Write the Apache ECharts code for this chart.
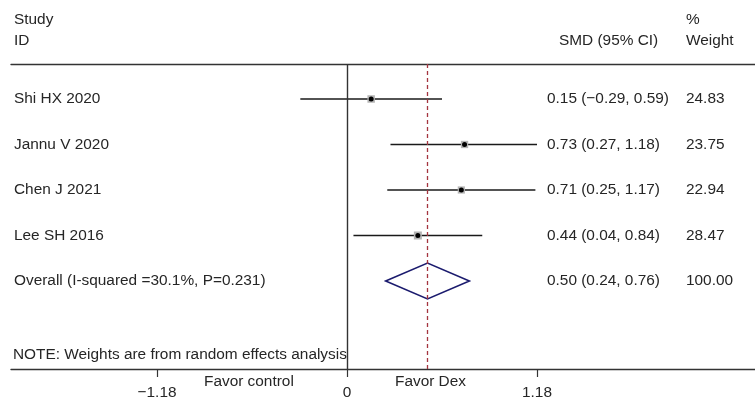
<!DOCTYPE html>
<html>
<head>
<meta charset="utf-8">
<script src="https://cdn.jsdelivr.net/npm/echarts@6/dist/echarts.min.js"></script>
<style>
  html, body { margin: 0; padding: 0; background: #fff; }
  #chart { width: 755px; height: 405px; }
</style>
</head>
<body>
<div id="chart"></div>
<script>
// Forest plot: standardized mean difference per study, random-effects pooled estimate
const studies  = ['Shi HX 2020', 'Jannu V 2020', 'Chen J 2021', 'Lee SH 2016'];
const smd      = [0.15, 0.73, 0.71, 0.44];
const ciLow    = [-0.29, 0.27, 0.25, 0.04];
const ciHigh   = [0.59, 1.18, 1.17, 0.84];
const weights  = [24.83, 23.75, 22.94, 28.47];

const overallLabel  = 'Overall (I-squared =30.1%, P=0.231)';
const overallSmd    = 0.50;
const overallLow    = 0.24;
const overallHigh   = 0.76;
const overallWeight = 100.00;

const tickValues = [-1.18, 0, 1.18];
const noteText = 'NOTE: Weights are from random effects analysis';

const FONT = '"Liberation Sans", Arial, Helvetica, sans-serif';
const FS = 15.4;
const TEXT = '#262626';
const COL_LABEL = 14, COL_EST = 547, COL_W = 686;

const fmt = v => v.toFixed(2).replace('-', '\u2212');

const studyRows = studies.map((s, i) => [i + 1, smd[i], ciLow[i], ciHigh[i], weights[i]]);
const overallRow = [[studies.length + 1, overallSmd, overallLow, overallHigh, overallWeight]];
const maxW = Math.max(...weights);

function rowTexts(label, est, lo, hi, w, y) {
  const st = (t, x) => ({
    type: 'text',
    style: { text: t, x: x, y: y, fill: TEXT, fontSize: FS, fontFamily: FONT, align: 'left', verticalAlign: 'middle' }
  });
  return [
    st(label, COL_LABEL),
    st(fmt(est) + ' (' + fmt(lo) + ', ' + fmt(hi) + ')', COL_EST),
    st(w.toFixed(2), COL_W)
  ];
}

const chart = echarts.init(document.getElementById('chart'), null, { renderer: 'canvas' });

chart.setOption({
  animation: false,
  backgroundColor: '#fff',
  grid: { left: 11, right: 0, top: 64, bottom: 36, outerBoundsMode: 'none' },
  xAxis: [
    {
      type: 'value', position: 'bottom', min: -2.087, max: 2.534,
      splitLine: { show: false },
      axisLine: { show: true, onZero: false, lineStyle: { color: '#333', width: 1.4 } },
      axisTick: { show: true, customValues: tickValues, length: 8, lineStyle: { color: '#333', width: 1.2 } },
      axisLabel: {
        customValues: tickValues, margin: 16, color: TEXT, fontSize: FS, fontFamily: FONT,
        formatter: v => (v === 0 ? '0' : fmt(v))
      }
    },
    {
      type: 'value', position: 'top', min: -2.087, max: 2.534,
      splitLine: { show: false },
      axisLine: { show: true, onZero: false, lineStyle: { color: '#333', width: 1.4 } },
      axisTick: { show: false }, axisLabel: { show: false }
    }
  ],
  yAxis: {
    type: 'value', inverse: true, min: 0.231, max: 6.934,
    show: false, splitLine: { show: false }
  },
  graphic: [
    { type: 'text', left: 14, top: 12, style: { text: 'Study', fill: TEXT, fontSize: FS, fontFamily: FONT } },
    { type: 'text', left: 14, top: 33, style: { text: 'ID', fill: TEXT, fontSize: FS, fontFamily: FONT } },
    { type: 'text', left: 559, top: 33, style: { text: 'SMD (95% CI)', fill: TEXT, fontSize: FS, fontFamily: FONT } },
    { type: 'text', left: 686, top: 12, style: { text: '%', fill: TEXT, fontSize: FS, fontFamily: FONT } },
    { type: 'text', left: 686, top: 33, style: { text: 'Weight', fill: TEXT, fontSize: FS, fontFamily: FONT } },
    { type: 'text', left: 13, top: 347, style: { text: noteText, fill: TEXT, fontSize: FS, fontFamily: FONT } },
    { type: 'text', left: 204, top: 374, style: { text: 'Favor control', fill: TEXT, fontSize: FS, fontFamily: FONT } },
    { type: 'text', left: 395, top: 374, style: { text: 'Favor Dex', fill: TEXT, fontSize: FS, fontFamily: FONT } }
  ],
  series: [
    {
      type: 'custom',
      name: 'studies',
      data: studyRows,
      encode: { x: [1, 2, 3], y: 0 },
      renderItem: function (params, api) {
        const row = api.value(0), est = api.value(1), lo = api.value(2), hi = api.value(3), w = api.value(4);
        const pLo = api.coord([lo, row]);
        const pHi = api.coord([hi, row]);
        const pEst = api.coord([est, row]);
        const side = 8 * Math.sqrt(w / maxW);
        return {
          type: 'group',
          children: [
            { type: 'line', shape: { x1: pLo[0], y1: pLo[1], x2: pHi[0], y2: pHi[1] },
              style: { stroke: '#1a1a1a', lineWidth: 1.6 } },
            { type: 'rect', shape: { x: pEst[0] - side / 2, y: pEst[1] - side / 2, width: side, height: side },
              style: { fill: '#b4b4b4' } },
            { type: 'circle', shape: { cx: pEst[0], cy: pEst[1], r: 2.5 }, style: { fill: '#000' } }
          ].concat(rowTexts(studies[params.dataIndex], est, lo, hi, w, pEst[1]))
        };
      },
      markLine: {
        silent: true, symbol: 'none', label: { show: false },
        data: [
          { xAxis: 0, lineStyle: { color: '#333', width: 1.4, type: 'solid' } },
          { xAxis: overallSmd, lineStyle: { color: '#a4343f', width: 1.3, type: [4, 3] } }
        ]
      }
    },
    {
      type: 'custom',
      name: 'overall',
      data: overallRow,
      encode: { x: [1, 2, 3], y: 0 },
      renderItem: function (params, api) {
        const row = api.value(0), est = api.value(1), lo = api.value(2), hi = api.value(3), w = api.value(4);
        const pLo = api.coord([lo, row]);
        const pHi = api.coord([hi, row]);
        const pEst = api.coord([est, row]);
        const h = 18;
        return {
          type: 'group',
          children: [
            { type: 'polygon',
              shape: { points: [[pLo[0], pLo[1]], [pEst[0], pEst[1] - h], [pHi[0], pHi[1]], [pEst[0], pEst[1] + h]] },
              style: { fill: 'none', stroke: '#1b1b6e', lineWidth: 1.6 } }
          ].concat(rowTexts(overallLabel, est, lo, hi, w, pEst[1]))
        };
      }
    }
  ]
});
</script>
</body>
</html>
